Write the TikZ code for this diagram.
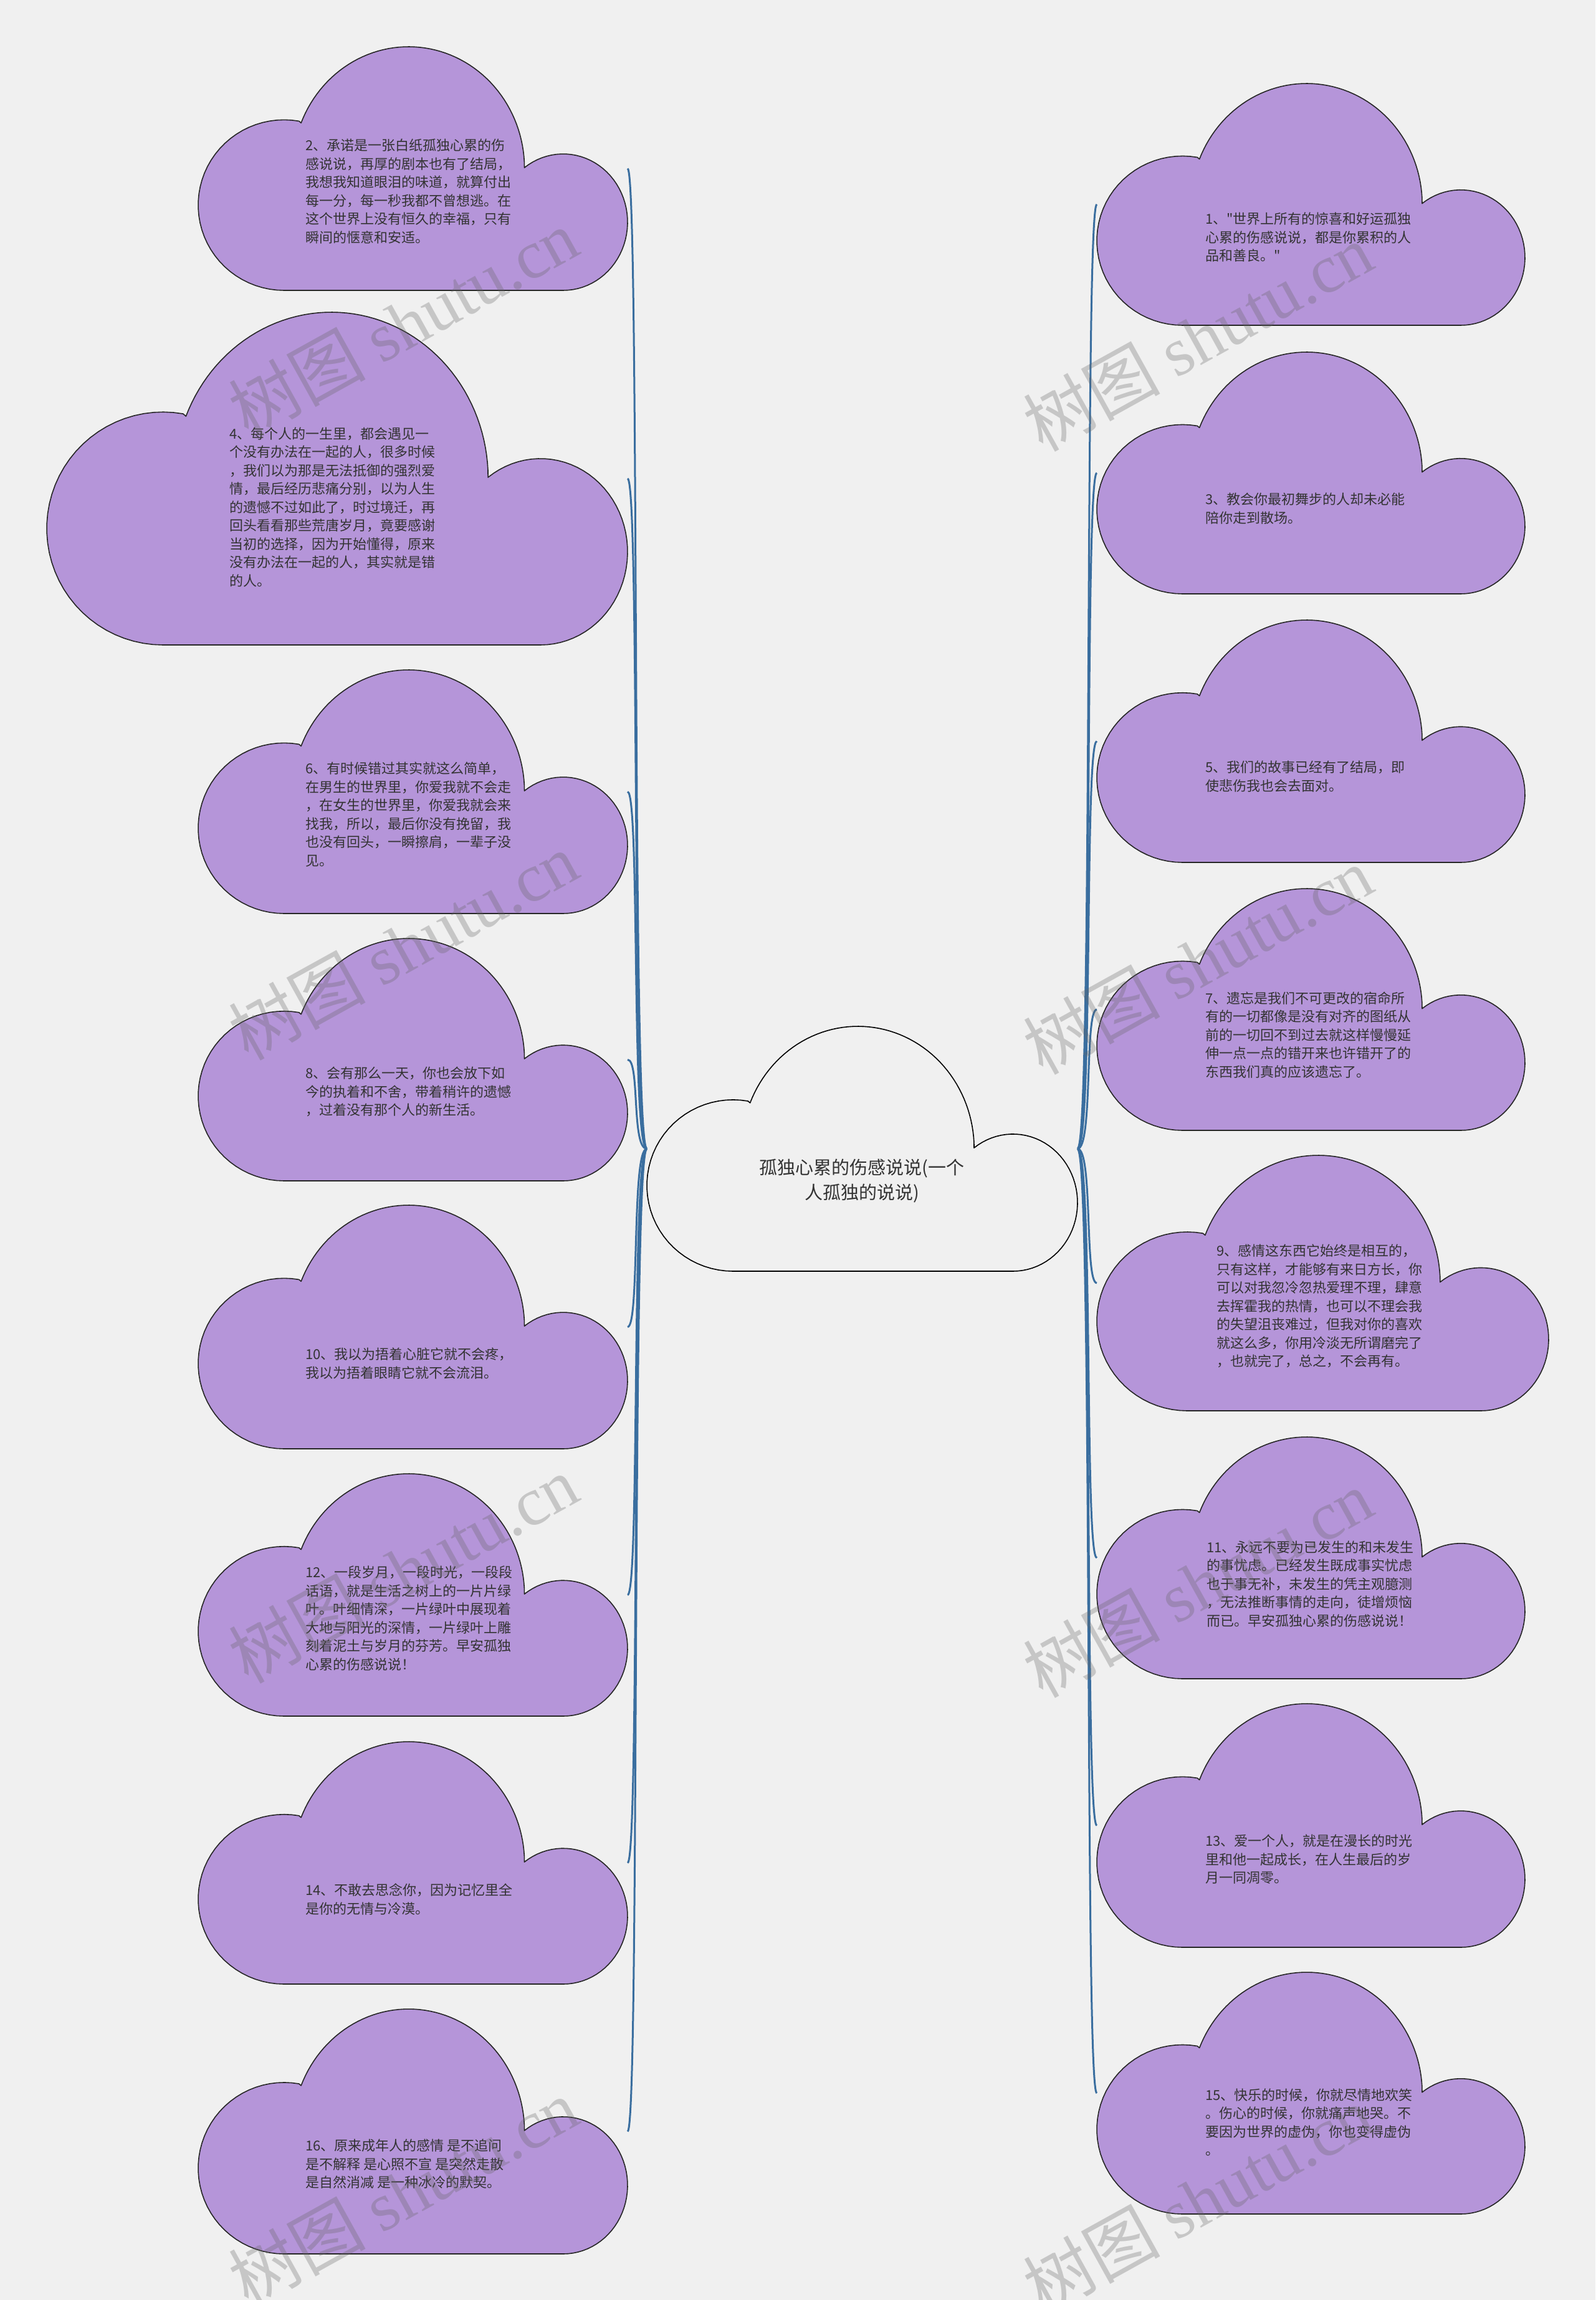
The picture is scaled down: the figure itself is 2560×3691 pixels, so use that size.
\documentclass[tikz,border=0pt]{standalone}
\usepackage{fontspec}
\setmainfont{Noto Sans CJK SC}
\newfontfamily\plainqfont{Noto Sans CJK SC}
\newfontfamily\wmlatin{Liberation Serif}
\newcommand\sq{{\plainqfont"}}
\definecolor{bgc}{HTML}{F0F0F0}
\definecolor{cloudfill}{HTML}{B595D9}
\definecolor{linkc}{HTML}{3A6E9F}
\definecolor{txtc}{HTML}{333333}
\tikzset{
  purplecloud/.style={draw=black!85, line width=1.6pt, fill=cloudfill, line join=round},
  centercloud/.style={draw=black, line width=1.6pt, fill=bgc, line join=round},
  cloudbox/.style={draw=none, inner sep=0pt, outer sep=0pt, rectangle},
  leaf/.style={anchor=west, align=left, inner sep=0pt, text=txtc, font=\fontsize{22}{29.5}\selectfont},
  roottext/.style={align=center, inner sep=0pt, text=txtc, font=\fontsize{29}{40}\selectfont},
  link/.style={draw=linkc, line width=3pt},
  wm/.style={text=black!60, opacity=0.3, rotate=29, inner sep=0pt, font=\fontsize{110}{110}\selectfont}
}
\newcommand\drawcloud[6]{%
  \begin{scope}[shift={(#2,#3)}, x=#4pt, y=-#5pt]
    \path[#6] (0.2,1)
      -- plot[domain=270:80, samples=40] ({0.2+0.2*cos(\x)},{0.65-0.35*sin(\x)})
      -- plot[domain=158:3, samples=60] ({0.49+0.27*cos(\x)},{0.5-0.5*sin(\x)})
      -- plot[domain=127:-90, samples=50] ({0.85+0.15*cos(\x)},{0.72-0.28*sin(\x)})
      -- cycle;
  \end{scope}
  \node[cloudbox, minimum width=#4pt, minimum height=#5pt] (#1) at ({#2+#4/2},{#3+#5/2}) {};
}
\begin{document}
\begin{tikzpicture}[x=1pt, y=-1pt]
\fill[bgc] (0,0) rectangle (2560,3691);
\useasboundingbox (0,0) rectangle (2560,3691);
\clip (0,0) rectangle (2560,3691);

% clouds
\drawcloud{root}{1038}{1647}{691}{393}{centercloud}
\drawcloud{c2}{318}{75}{689}{391}{purplecloud}
\drawcloud{c4}{75}{501}{932}{534}{purplecloud}
\drawcloud{c6}{318}{1075}{689}{391}{purplecloud}
\drawcloud{c8}{318}{1506}{689}{389}{purplecloud}
\drawcloud{c10}{318}{1934}{689}{391}{purplecloud}
\drawcloud{c12}{318}{2365}{689}{389}{purplecloud}
\drawcloud{c14}{318}{2795}{689}{389}{purplecloud}
\drawcloud{c16}{318}{3224}{689}{393}{purplecloud}
\drawcloud{c1}{1760}{134}{687}{388}{purplecloud}
\drawcloud{c3}{1760}{565}{687}{388}{purplecloud}
\drawcloud{c5}{1760}{995}{687}{389}{purplecloud}
\drawcloud{c7}{1760}{1426}{687}{388}{purplecloud}
\drawcloud{c9}{1760}{1854}{725}{410}{purplecloud}
\drawcloud{c11}{1760}{2306}{687}{388}{purplecloud}
\drawcloud{c13}{1760}{2734}{687}{391}{purplecloud}
\drawcloud{c15}{1760}{3165}{687}{388}{purplecloud}

% connectors
\foreach \n in {c2,c4,c6,c8,c10,c12,c14,c16}
  \draw[link] (root.west) .. controls +(-25,0) and +(20,0) .. (\n.east);
\foreach \n in {c1,c3,c5,c7,c9,c11,c13,c15}
  \draw[link] (root.east) .. controls +(25,0) and +(-20,0) .. (\n.west);

% texts
\node[roottext] (rt) at (1383,1895) {孤独心累的伤感说说(一个\\人孤独的说说)};

\node[leaf] (t2) at (490,307) {2、承诺是一张白纸孤独心累的伤\\感说说，再厚的剧本也有了结局，\\我想我知道眼泪的味道，就算付出\\每一分，每一秒我都不曾想逃。在\\这个世界上没有恒久的幸福，只有\\瞬间的惬意和安适。};
\node[leaf] (t4) at (368,814) {4、每个人的一生里，都会遇见一\\个没有办法在一起的人，很多时候\\，我们以为那是无法抵御的强烈爱\\情，最后经历悲痛分别，以为人生\\的遗憾不过如此了，时过境迁，再\\回头看看那些荒唐岁月，竟要感谢\\当初的选择，因为开始懂得，原来\\没有办法在一起的人，其实就是错\\的人。};
\node[leaf] (t6) at (490,1307) {6、有时候错过其实就这么简单，\\在男生的世界里，你爱我就不会走\\，在女生的世界里，你爱我就会来\\找我，所以，最后你没有挽留，我\\也没有回头，一瞬擦肩，一辈子没\\见。};
\node[leaf] (t8) at (490,1752) {8、会有那么一天，你也会放下如\\今的执着和不舍，带着稍许的遗憾\\，过着没有那个人的新生活。};
\node[leaf] (t10) at (490,2188) {10、我以为捂着心脏它就不会疼，\\我以为捂着眼睛它就不会流泪。};
\node[leaf] (t12) at (490,2597) {12、一段岁月，一段时光，一段段\\话语，就是生活之树上的一片片绿\\叶。叶细情深，一片绿叶中展现着\\大地与阳光的深情，一片绿叶上雕\\刻着泥土与岁月的芬芳。早安孤独\\心累的伤感说说！};
\node[leaf] (t14) at (490,3048) {14、不敢去思念你，因为记忆里全\\是你的无情与冷漠。};
\node[leaf] (t16) at (490,3473) {16、原来成年人的感情 是不追问\\是不解释 是心照不宣 是突然走散\\是自然消减 是一种冰冷的默契。};

\node[leaf] (t1) at (1934,381) {1、\sq 世界上所有的惊喜和好运孤独\\心累的伤感说说，都是你累积的人\\品和善良。\sq};
\node[leaf] (t3) at (1934,816) {3、教会你最初舞步的人却未必能\\陪你走到散场。};
\node[leaf] (t5) at (1934,1246) {5、我们的故事已经有了结局，即\\使悲伤我也会去面对。};
\node[leaf] (t7) at (1934,1661) {7、遗忘是我们不可更改的宿命所\\有的一切都像是没有对齐的图纸从\\前的一切回不到过去就这样慢慢延\\伸一点一点的错开来也许错开了的\\东西我们真的应该遗忘了。};
\node[leaf] (t9) at (1952,2096) {9、感情这东西它始终是相互的，\\只有这样，才能够有来日方长，你\\可以对我忽冷忽热爱理不理，肆意\\去挥霍我的热情，也可以不理会我\\的失望沮丧难过，但我对你的喜欢\\就这么多，你用冷淡无所谓磨完了\\，也就完了，总之，不会再有。};
\node[leaf] (t11) at (1936,2542) {11、永远不要为已发生的和未发生\\的事忧虑。已经发生既成事实忧虑\\也于事无补，未发生的凭主观臆测\\，无法推断事情的走向，徒增烦恼\\而已。早安孤独心累的伤感说说！};
\node[leaf] (t13) at (1934,2984) {13、爱一个人，就是在漫长的时光\\里和他一起成长，在人生最后的岁\\月一同凋零。};
\node[leaf] (t15) at (1934,3406) {15、快乐的时候，你就尽情地欢笑\\。伤心的时候，你就痛声地哭。不\\要因为世界的虚伪，你也变得虚伪\\。};

% watermarks
\node[wm] (w1) at (647,518) {树图 {\wmlatin shutu.cn}};
\node[wm] (w2) at (1922,541) {树图 {\wmlatin shutu.cn}};
\node[wm] (w3) at (647,1518) {树图 {\wmlatin shutu.cn}};
\node[wm] (w4) at (1922,1541) {树图 {\wmlatin shutu.cn}};
\node[wm] (w5) at (647,2518) {树图 {\wmlatin shutu.cn}};
\node[wm] (w6) at (1922,2541) {树图 {\wmlatin shutu.cn}};
\node[wm] (w7) at (647,3518) {树图 {\wmlatin shutu.cn}};
\node[wm] (w8) at (1922,3530) {树图 {\wmlatin shutu.cn}};
\end{tikzpicture}
\end{document}
